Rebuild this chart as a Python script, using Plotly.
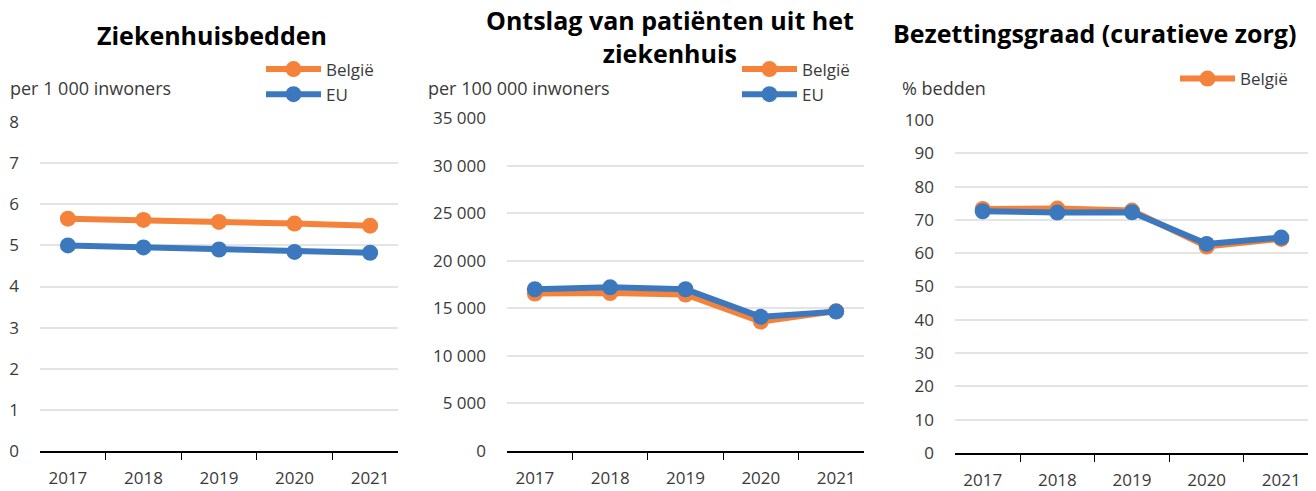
import plotly.graph_objects as go

# data
years = ["2017", "2018", "2019", "2020", "2021"]

beds_be = [5.65, 5.62, 5.57, 5.53, 5.48]
beds_eu = [5.00, 4.95, 4.90, 4.84, 4.82]

disch_be = [16550, 16600, 16450, 13600, 14700]
disch_eu = [17000, 17200, 17000, 14100, 14650]

occ_be = [73.3, 73.4, 72.8, 62.0, 64.3]
occ_eu = [72.6, 72.2, 72.3, 62.8, 64.7]

titles = ["Ziekenhuisbedden", "Ontslag van patiënten uit het<br>ziekenhuis",
          "Bezettingsgraad (curatieve zorg)"]
units = ["per 1 000 inwoners", "per 100 000 inwoners", "% bedden"]

ORANGE = "#F5823A"
BLUE = "#3C78BE"
TXT = "#3a3a3a"
FONT = "Open Sans"

# the page body has an 8px margin, so the figure starts at (8, 8)
OFF = 8
W, H = 1316 - OFF, 491 - OFF


def px(x):
    return (x - OFF) / W


def py(y):
    return (H - (y - OFF)) / H


fig = go.Figure()

panels = [
    (beds_be, beds_eu, True),
    (disch_be, disch_eu, True),
    (occ_be, occ_eu, False),
]
for i, (be, eu, eu_in_legend) in enumerate(panels):
    n = "" if i == 0 else str(i + 1)
    fig.add_trace(go.Scatter(x=years, y=be, name="België", mode="lines+markers",
                             line=dict(color=ORANGE, width=6), marker=dict(size=16, color=ORANGE),
                             xaxis="x" + n, yaxis="y" + n, legend="legend" + n))
    fig.add_trace(go.Scatter(x=years, y=eu, name="EU", mode="lines+markers",
                             line=dict(color=BLUE, width=6), marker=dict(size=16, color=BLUE),
                             xaxis="x" + n, yaxis="y" + n, legend="legend" + n,
                             showlegend=eu_in_legend))

# pixel layout of each panel in the page: plot left/right, y top/bottom
boxes = [(40, 398, 122, 451), (507, 864, 118, 451), (955, 1309, 120, 453)]
yranges = [[0, 8], [0, 35000], [0, 100]]
ydticks = [1, 5000, 10]

layout = dict(
    width=W, height=H, margin=dict(l=0, r=0, t=0, b=0, autoexpand=False),
    plot_bgcolor="white", paper_bgcolor="white",
    font=dict(family=FONT, size=17, color=TXT),
    separators=", ",
)

annotations = []
title_x = [212, 670, 1094]
title_y = [35, 36, 33]
unit_x = [8, 426, 900]
leg_pos = [(261, 82), (737, 82), (1175, 79)]

for i, (x0, x1, yt, yb) in enumerate(boxes):
    n = "" if i == 0 else str(i + 1)
    layout["xaxis" + n] = dict(
        domain=[px(x0), px(x1)], anchor="y" + n, type="category",
        showline=True, linecolor="black", linewidth=1.5,
        ticks="outside", tickson="boundaries", ticklen=7, tickcolor="black",
        ticklabelstandoff=11, automargin=False,
        showgrid=False, fixedrange=True,
    )
    layout["yaxis" + n] = dict(
        domain=[py(yb), py(yt)], anchor="x" + n,
        range=yranges[i], dtick=ydticks[i], tickformat=",d",
        showgrid=True, gridcolor="#e4e4e4", gridwidth=1.5,
        zeroline=False, showline=False, ticklabelstandoff=20,
        automargin=False, fixedrange=True,
    )
    lx, ly = leg_pos[i]
    layout["legend" + n] = dict(
        x=px(lx), y=py(ly), xanchor="left", yanchor="middle",
        bgcolor="rgba(0,0,0,0)", itemwidth=55, tracegroupgap=0,
        font=dict(size=17, color=TXT),
    )
    annotations.append(dict(text="<b>" + titles[i] + "</b>", x=px(title_x[i]), y=py(title_y[i]),
                            xref="paper", yref="paper", showarrow=False,
                            xanchor="center", yanchor="middle",
                            font=dict(size=25, color="black", family=FONT)))
    annotations.append(dict(text=units[i], x=px(unit_x[i]), y=py(88),
                            xref="paper", yref="paper", showarrow=False, xanchor="left", yanchor="middle",
                            font=dict(size=18, color=TXT)))

layout["annotations"] = annotations
fig.update_layout(**layout)

fig.write_html("out.html")
